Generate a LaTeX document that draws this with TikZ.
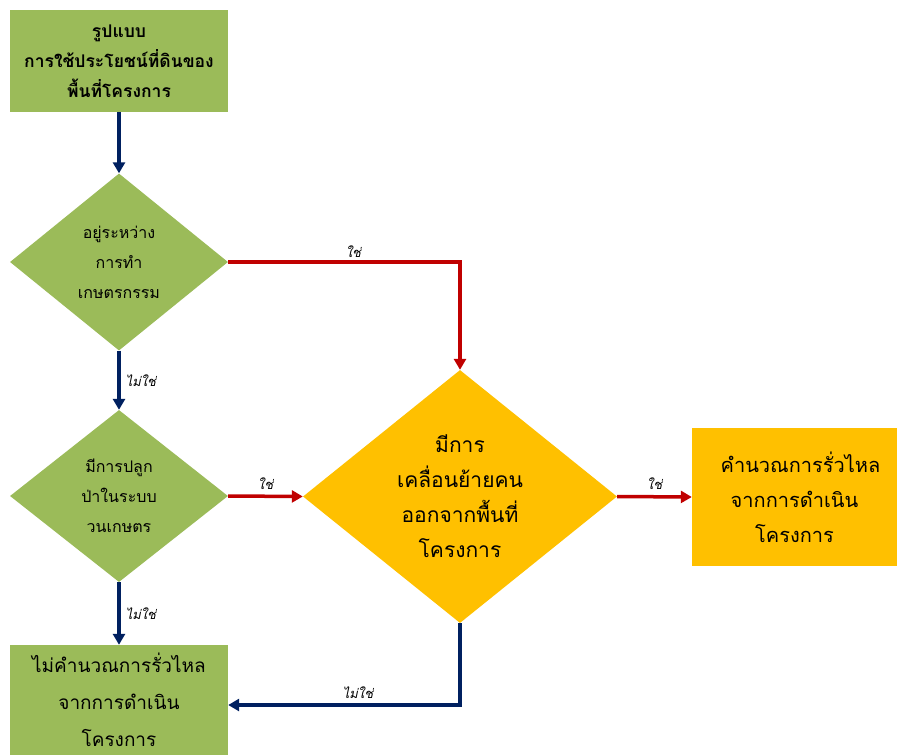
\documentclass[tikz,border=0pt]{standalone}
\usepackage{fontspec}
\newfontfamily\thai[Script=Thai]{Loma}
\usetikzlibrary{shapes.geometric,arrows.meta}
\definecolor{boxgreen}{HTML}{9BBB59}
\definecolor{boxorange}{HTML}{FFC000}
\definecolor{navyline}{HTML}{002060}
\definecolor{redline}{HTML}{C00000}
\tikzset{
  x=1pt,y=1pt,
  greenbox/.style={fill=boxgreen,inner sep=0pt,align=center},
  orangebox/.style={fill=boxorange,inner sep=0pt,align=center},
  decide/.style={diamond,inner sep=0pt,align=center},
  navyarrow/.style={draw=navyline,line width=3.5pt,-{Triangle[length=11pt,width=12pt]}},
  redarrow/.style={draw=redline,line width=3.5pt,-{Triangle[length=11pt,width=12pt]}},
  lab/.style={font=\thai\itshape\fontsize{13pt}{15pt}\selectfont,inner sep=2pt}
}
\begin{document}
\begin{tikzpicture}
\useasboundingbox (0,0) rectangle (897,-755);
\clip (0,0) rectangle (897,-755);
\node[greenbox,minimum width=218,minimum height=102,
  font=\thai\bfseries\fontsize{17.5pt}{30pt}\selectfont] (top) at (119,-61)
  {รูปแบบ\\การใช้ประโยชน์ที่ดินของ\\พื้นที่โครงการ};
\node[decide,fill=boxgreen,minimum width=218,minimum height=177,aspect=1.23,
  font=\thai\fontsize{16pt}{30pt}\selectfont] (d1) at (119,-262)
  {อยู่ระหว่าง\\การทำ\\เกษตรกรรม};
\node[decide,fill=boxgreen,minimum width=218,minimum height=172,aspect=1.25,
  font=\thai\fontsize{16pt}{30pt}\selectfont] (d2) at (119,-496)
  {มีการปลูก\\ป่าในระบบ\\วนเกษตร};
\node[decide,fill=boxorange,minimum width=314,minimum height=253,aspect=1.24,
  font=\thai\fontsize{21pt}{35pt}\selectfont] (d3) at (460,-496.5)
  {มีการ\\เคลื่อนย้ายคน\\ออกจากพื้นที่\\โครงการ};
\node[orangebox,minimum width=205,minimum height=138,
  font=\thai\fontsize{20pt}{35pt}\selectfont] (calc) at (794.5,-497)
  {\hspace*{12pt}คำนวณการรั่วไหล\\จากการดำเนิน\\โครงการ};
\node[greenbox,minimum width=218,minimum height=110,
  font=\thai\fontsize{19pt}{37pt}\selectfont] (nocalc) at (119,-700)
  {ไม่คำนวณการรั่วไหล\\จากการดำเนิน\\โครงการ};
\draw[navyarrow] (top.south) -- (d1.north);
\draw[redarrow] (d1.east) -| (d3.north) node[lab,pos=0.27,above=1pt] {ใช่};
\draw[navyarrow] (d1.south) -- (d2.north) node[lab,midway,right=3pt] {ไม่ใช่};
\draw[redarrow] (d2.east) -- (d3.west) node[lab,midway,above=3pt] {ใช่};
\draw[redarrow] (d3.east) -- (calc.west) node[lab,midway,above=3pt] {ใช่};
\draw[navyarrow] (d2.south) -- (nocalc.north) node[lab,midway,right=3pt] {ไม่ใช่};
\draw[navyarrow] (d3.south) |- ([yshift=-5pt]nocalc.east) node[lab,pos=0.72,above=3pt] {ไม่ใช่};
\end{tikzpicture}
\end{document}
